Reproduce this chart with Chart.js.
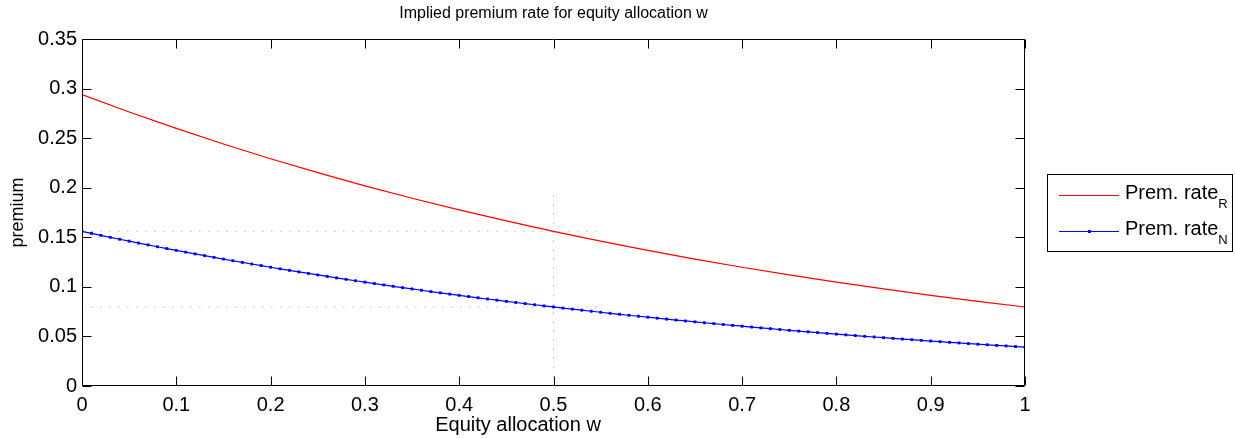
<!DOCTYPE html>
<html>
<head>
<meta charset="utf-8">
<script src="https://cdn.jsdelivr.net/npm/chart.js@4.4.1/dist/chart.umd.min.js"></script>
<style>
  html, body { margin: 0; padding: 0; background: #fff; }
  #wrap { width: 1235px; height: 438px; }
</style>
</head>
<body>
<div id="wrap"><canvas id="premChart" width="1235" height="438"></canvas></div>
<script>
// equity allocation grid for the R curve (no markers, coarse is enough)
const wCoarse = [0, 0.05, 0.1, 0.15, 0.2, 0.25, 0.3, 0.35, 0.4, 0.45, 0.5,
                 0.55, 0.6, 0.65, 0.7, 0.75, 0.8, 0.85, 0.9, 0.95, 1];
const rateR = [0.2940, 0.2764, 0.2598, 0.2441, 0.2292, 0.2152, 0.2019, 0.1894, 0.1776, 0.1665, 0.1560,
               0.1461, 0.1368, 0.1280, 0.1198, 0.1120, 0.1048, 0.0979, 0.0915, 0.0854, 0.0797];

// the N curve has a marker every 0.01
const wFine = [0, 0.01, 0.02, 0.03, 0.04, 0.05, 0.06, 0.07, 0.08, 0.09,
               0.1, 0.11, 0.12, 0.13, 0.14, 0.15, 0.16, 0.17, 0.18, 0.19,
               0.2, 0.21, 0.22, 0.23, 0.24, 0.25, 0.26, 0.27, 0.28, 0.29,
               0.3, 0.31, 0.32, 0.33, 0.34, 0.35, 0.36, 0.37, 0.38, 0.39,
               0.4, 0.41, 0.42, 0.43, 0.44, 0.45, 0.46, 0.47, 0.48, 0.49,
               0.5, 0.51, 0.52, 0.53, 0.54, 0.55, 0.56, 0.57, 0.58, 0.59,
               0.6, 0.61, 0.62, 0.63, 0.64, 0.65, 0.66, 0.67, 0.68, 0.69,
               0.7, 0.71, 0.72, 0.73, 0.74, 0.75, 0.76, 0.77, 0.78, 0.79,
               0.8, 0.81, 0.82, 0.83, 0.84, 0.85, 0.86, 0.87, 0.88, 0.89,
               0.9, 0.91, 0.92, 0.93, 0.94, 0.95, 0.96, 0.97, 0.98, 0.99,
               1];
const rateN = [0.15599, 0.15396, 0.15195, 0.14997, 0.14802, 0.14609, 0.14419, 0.14231, 0.14046, 0.13863,
               0.13681, 0.13501, 0.13323, 0.13147, 0.12974, 0.12803, 0.12634, 0.12467, 0.12303, 0.12141,
               0.11980, 0.11820, 0.11663, 0.11507, 0.11354, 0.11202, 0.11053, 0.10905, 0.10760, 0.10616,
               0.10475, 0.10334, 0.10195, 0.10057, 0.09922, 0.09788, 0.09656, 0.09526, 0.09398, 0.09271,
               0.09146, 0.09021, 0.08898, 0.08777, 0.08657, 0.08539, 0.08422, 0.08307, 0.08194, 0.08082,
               0.07972, 0.07862, 0.07754, 0.07647, 0.07541, 0.07437, 0.07335, 0.07234, 0.07134, 0.07036,
               0.06939, 0.06842, 0.06747, 0.06653, 0.06560, 0.06469, 0.06379, 0.06290, 0.06202, 0.06116,
               0.06031, 0.05946, 0.05862, 0.05780, 0.05698, 0.05618, 0.05539, 0.05461, 0.05384, 0.05309,
               0.05234, 0.05160, 0.05086, 0.05014, 0.04943, 0.04872, 0.04803, 0.04735, 0.04668, 0.04601,
               0.04536, 0.04471, 0.04406, 0.04343, 0.04280, 0.04219, 0.04158, 0.04098, 0.04039, 0.03981,
               0.03924];

// dotted guide lines: premium levels, where they stop, and the w = 0.5 marker
const guideLevels = [0.156, 0.0797];
const guideStopW = 0.55;
const guideW = 0.5;
const guideTop = 0.1925;

const xTickLabels = ['0', '0.1', '0.2', '0.3', '0.4', '0.5', '0.6', '0.7', '0.8', '0.9', '1'];
const yTickLabels = ['0', '0.05', '0.1', '0.15', '0.2', '0.25', '0.3', '0.35'];
const xAxisLabel = 'Equity allocation w';

const FONT = "'Liberation Sans', Arial, Helvetica, sans-serif";
const FS = 20;

function toPoints(xs, ys) {
    return xs.map((x, i) => ({ x: x, y: ys[i] }));
}

const guideStyle = {
    borderColor: '#bdbdbd',
    borderWidth: 1,
    borderDash: [1.5, 7.5],
    pointRadius: 0,
    fill: false
};

const datasets = [
    {
        label: 'Prem. rate', sub: 'R',
        data: toPoints(wCoarse, rateR),
        borderColor: '#ff0000',
        borderWidth: 1.2,
        pointRadius: 0,
        fill: false
    },
    {
        label: 'Prem. rate', sub: 'N',
        data: toPoints(wFine, rateN),
        borderColor: '#0000ff',
        backgroundColor: '#0000ff',
        borderWidth: 1.2,
        pointStyle: 'rect',
        pointRadius: 2,
        pointBorderWidth: 0,
        fill: false
    }
];

guideLevels.forEach(level => {
    datasets.push(Object.assign({ label: '', data: [{ x: 0, y: level }, { x: guideStopW, y: level }] }, guideStyle));
});
datasets.push(Object.assign({ label: '', data: [{ x: guideW, y: 0 }, { x: guideW, y: guideTop }] }, guideStyle));

// box around the axes with inward ticks on all four sides
const boxAxes = {
    id: 'boxAxes',
    afterDatasetsDraw(chart) {
        const c = chart.ctx;
        const a = chart.chartArea;
        const L = Math.round(a.left) + 0.5, R = Math.round(a.right) - 0.5;
        const T = Math.round(a.top) + 0.5, B = Math.round(a.bottom) - 0.5;
        const len = 9;
        c.save();
        c.strokeStyle = '#000';
        c.lineWidth = 1;
        c.beginPath();
        c.rect(L, T, R - L, B - T);
        chart.scales.x.ticks.forEach(t => {
            const px = Math.round(chart.scales.x.getPixelForValue(t.value)) + 0.5;
            c.moveTo(px, B); c.lineTo(px, B - len);
            c.moveTo(px, T); c.lineTo(px, T + len);
        });
        chart.scales.y.ticks.forEach(t => {
            const py = Math.round(chart.scales.y.getPixelForValue(t.value)) + 0.5;
            c.moveTo(L, py); c.lineTo(L + len, py);
            c.moveTo(R, py); c.lineTo(R - len, py);
        });
        c.stroke();

        // x axis label sits a little left of the axes centre
        c.fillStyle = '#000';
        c.font = FS + 'px ' + FONT;
        c.textAlign = 'center';
        c.textBaseline = 'middle';
        c.fillText(xAxisLabel, 518, 425);
        c.restore();
    }
};

// legend with subscripted labels, outside the axes on the right
const subLegend = {
    id: 'subLegend',
    afterDraw(chart) {
        const c = chart.ctx;
        const box = { x: 1047.5, y: 174.5, w: 185, h: 77 };
        const rowY = [195, 231];
        c.save();
        c.fillStyle = '#fff';
        c.fillRect(box.x, box.y, box.w, box.h);
        c.strokeStyle = '#000';
        c.lineWidth = 1;
        c.strokeRect(box.x, box.y, box.w, box.h);
        [0, 1].forEach(i => {
            const ds = chart.data.datasets[i];
            const y = rowY[i] + 0.5;
            c.strokeStyle = ds.borderColor;
            c.lineWidth = ds.borderWidth;
            c.beginPath();
            c.moveTo(1059, y);
            c.lineTo(1119, y);
            c.stroke();
            if (ds.pointRadius > 0) {
                c.fillStyle = ds.backgroundColor;
                c.fillRect(1088, y - 1.5, 3, 3);
            }
            c.fillStyle = '#000';
            c.textBaseline = 'alphabetic';
            c.textAlign = 'left';
            c.font = FS + 'px ' + FONT;
            const base = rowY[i] + 3.5;
            c.fillText(ds.label, 1125, base);
            const w = c.measureText(ds.label).width;
            c.font = '13px ' + FONT;
            c.fillText(ds.sub, 1125 + w, base + 9);
        });
        c.restore();
    }
};

const ctx = document.getElementById('premChart').getContext('2d');
new Chart(ctx, {
    type: 'line',
    data: { datasets: datasets },
    options: {
        responsive: false,
        animation: false,
        devicePixelRatio: 1,
        layout: { padding: { left: 0, right: 210, top: 0, bottom: 0 } },
        plugins: {
            legend: { display: false },
            tooltip: { enabled: false },
            title: {
                display: true,
                fullSize: false,
                text: 'Implied premium rate for equity allocation w',
                color: '#000',
                font: { family: FONT, size: 16, weight: 'normal' },
                padding: { top: 4, bottom: 15.8 }
            }
        },
        scales: {
            x: {
                type: 'linear',
                min: 0,
                max: 1,
                grid: { display: false, drawTicks: false },
                border: { display: false },
                ticks: {
                    stepSize: 0.1,
                    autoSkip: false,
                    maxRotation: 0,
                    padding: 7,
                    color: '#000',
                    font: { family: FONT, size: FS },
                    callback: (v, i) => xTickLabels[i]
                },
                afterFit: s => { s.height = 52; }
            },
            y: {
                type: 'linear',
                min: 0,
                max: 0.35,
                grid: { display: false, drawTicks: false },
                border: { display: false },
                ticks: {
                    stepSize: 0.05,
                    padding: 5,
                    color: '#000',
                    font: { family: FONT, size: FS },
                    callback: (v, i) => yTickLabels[i]
                },
                title: {
                    display: true,
                    text: 'premium',
                    color: '#000',
                    font: { family: FONT, size: 18 },
                    padding: { top: 7, bottom: 0 }
                },
                afterFit: s => { s.width = 82; }
            }
        }
    },
    plugins: [boxAxes, subLegend]
});
</script>
</body>
</html>
